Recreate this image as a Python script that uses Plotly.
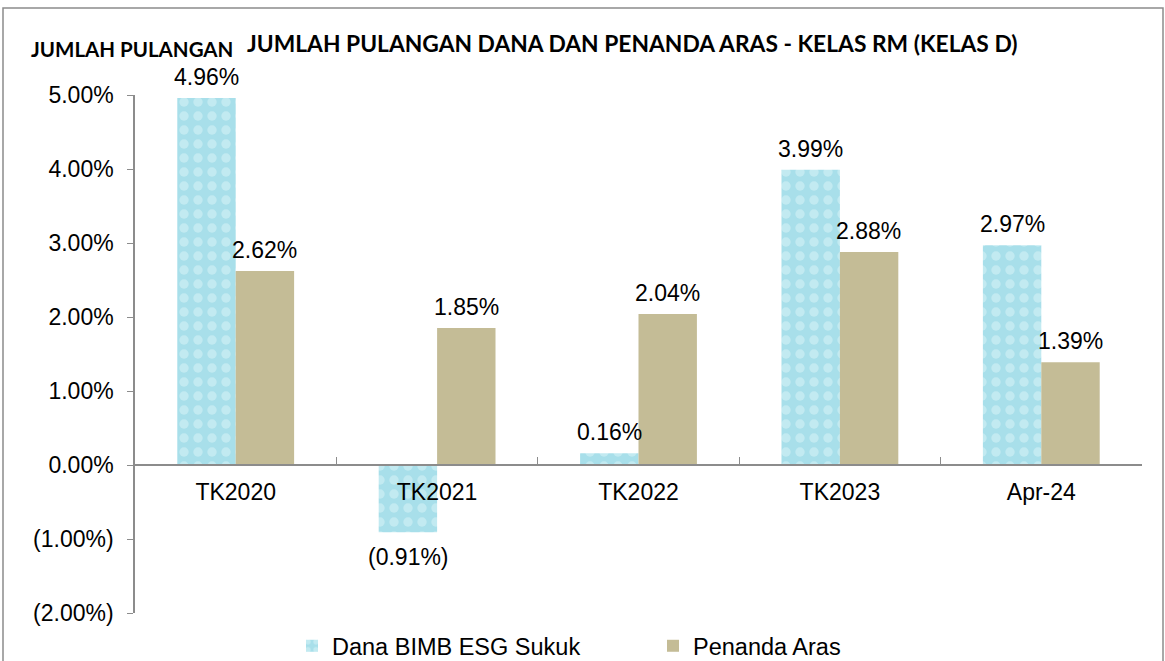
import plotly.graph_objects as go

categories = ["TK2020", "TK2021", "TK2022", "TK2023", "Apr-24"]
fund_name = "Dana BIMB ESG Sukuk"
bench_name = "Penanda Aras"
fund_values = [4.96, -0.91, 0.16, 3.99, 2.97]
bench_values = [2.62, 1.85, 2.04, 2.88, 1.39]
y_ticks = [-2, -1, 0, 1, 2, 3, 4, 5]
title_text = "JUMLAH PULANGAN DANA DAN PENANDA ARAS - KELAS RM (KELAS D)"
ytitle_text = "JUMLAH PULANGAN"


def fmt(v):
    return f"({abs(v):.2f}%)" if v < 0 else f"{v:.2f}%"


W, H = 1165, 661
PL, PR, PT, PB = 135, 1142, 95, 613          # plot area in screen pixels
L, T = PL, PT
R, B = W - PR, H - PB
PW, PH = PR - PL, PB - PT
YMIN, YMAX = -2, 5


def px(x):
    return (x - PL) / PW


def py(y):
    return (PB - y) / PH


FONT = "Liberation Sans, Arial, sans-serif"
BOLD = "Lato, Open Sans, sans-serif"
BLUE = "#A8DFEA"
TAN = "#C4BC96"
TXT = 23

fig = go.Figure()
fig.add_trace(go.Bar(
    x=categories, y=fund_values, name=fund_name,
    marker=dict(color=BLUE, line=dict(width=0),
                pattern=dict(shape=".", fgcolor="#D6F2F6", bgcolor=BLUE,
                             size=14, solidity=0.35, fgopacity=0.55)),
))
fig.add_trace(go.Bar(
    x=categories, y=bench_values, name=bench_name,
    marker=dict(color=TAN, line=dict(width=0)),
))

annotations = []
for i, c in enumerate(categories):
    for v, shift in ((fund_values[i], -29), (bench_values[i], 29)):
        annotations.append(dict(
            x=c, y=v, xref="x", yref="y", text=fmt(v), showarrow=False,
            xshift=shift, yanchor="bottom" if v >= 0 else "top",
            yshift=6 if v >= 0 else -10,
            font=dict(family=FONT, size=TXT, color="#000000"),
        ))

annotations.append(dict(
    x=px(632), y=py(43), xref="paper", yref="paper",
    text=f"<b>{title_text}</b>", showarrow=False, xanchor="center", yanchor="middle",
    font=dict(family=BOLD, size=22.8, color="#000000"),
))
annotations.append(dict(
    x=px(132), y=py(49), xref="paper", yref="paper",
    text=f"<b>{ytitle_text}</b>", showarrow=False, xanchor="center", yanchor="middle",
    font=dict(family=BOLD, size=20.5, color="#000000"),
))

shapes = [dict(
    type="rect", xref="paper", yref="paper",
    x0=px(3), x1=px(1163), y0=py(690), y1=py(8),
    line=dict(color="#8C8C8C", width=1.5), fillcolor="rgba(0,0,0,0)",
)]

fig.update_layout(
    width=W, height=H,
    margin=dict(l=L, r=R, t=T, b=B, autoexpand=False),
    paper_bgcolor="white", plot_bgcolor="white",
    barmode="group", bargap=0.42, bargroupgap=0,
    font=dict(family=FONT, size=TXT, color="#000000"),
    annotations=annotations, shapes=shapes,
    legend=dict(orientation="h", x=px(292), y=py(646),
                xanchor="left", yanchor="middle", itemwidth=30,
                entrywidth=316, entrywidthmode="pixels",
                font=dict(family=FONT, size=23.5, color="#000000"),
                bgcolor="rgba(0,0,0,0)"),
    xaxis=dict(
        anchor="free", position=(0 - YMIN) / (YMAX - YMIN),
        showline=True, linecolor="#8C8C8C", linewidth=1.5,
        ticks="inside", tickson="boundaries", ticklen=7, tickcolor="#8C8C8C",
        showgrid=False, zeroline=False, ticklabelstandoff=7,
        tickfont=dict(family=FONT, size=TXT, color="#000000"),
    ),
    yaxis=dict(
        range=[YMIN, YMAX], tickvals=y_ticks, ticktext=[fmt(v) for v in y_ticks],
        showline=True, linecolor="#8C8C8C", linewidth=1.5,
        ticks="outside", ticklen=6, tickcolor="#8C8C8C",
        showgrid=False, zeroline=False, ticklabelstandoff=9,
        tickfont=dict(family=FONT, size=TXT, color="#000000"),
    ),
)

fig.write_html("out.html", config={"displayModeBar": False},
               post_script="document.body.style.margin='0px';document.body.style.overflow='hidden';")
